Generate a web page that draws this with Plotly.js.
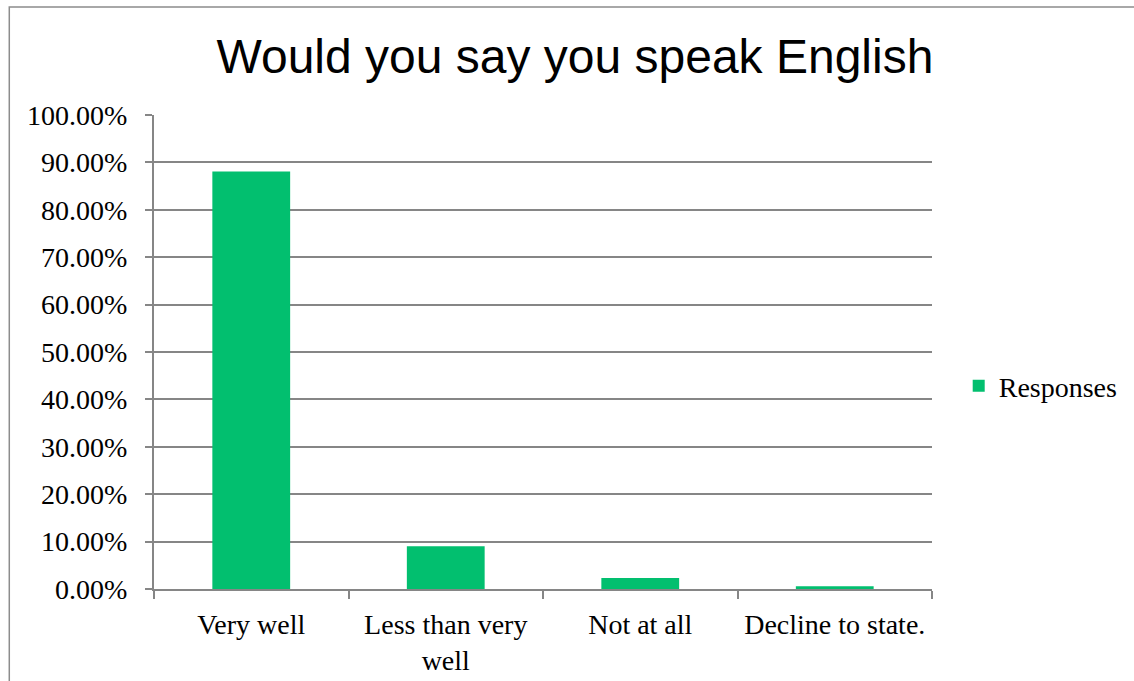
<!DOCTYPE html>
<html>
<head>
<meta charset="utf-8">
<script src="https://cdn.plot.ly/plotly-3.0.1.min.js"></script>
<style>
html,body{margin:0;padding:0;background:#fff;}
#chart{width:1134px;height:681px;}
</style>
</head>
<body>
<div id="chart"></div>
<script>
const categories = ["Very well", "Less than very<br>well", "Not at all", "Decline to state."];
const responses = [0.881, 0.090, 0.023, 0.006];
const seriesName = "Responses";
const yTickVals = [0, 0.1, 0.2, 0.3, 0.4, 0.5, 0.6, 0.7, 0.8, 0.9, 1.0];
const yTickText = ["0.00%", "10.00%", "20.00%", "30.00%", "40.00%", "50.00%", "60.00%", "70.00%", "80.00%", "90.00%", "100.00%"];
const chartTitle = "Would you say you speak English";

const serif = "Liberation Serif, Times New Roman, serif";
const gridColor = "#868686";

const data = [{
  type: "bar",
  x: categories,
  y: responses,
  name: seriesName,
  marker: {color: "#02BF6F"},
  showlegend: true
}];

const layout = {
  width: 1134, height: 681,
  margin: {l: 154, r: 201, t: 115, b: 92, pad: 0},
  paper_bgcolor: "#fff", plot_bgcolor: "#fff",
  title: {
    text: chartTitle,
    font: {family: "Liberation Sans, Arial, sans-serif", size: 48, color: "#000"},
    x: 0.507, xanchor: "center", y: 0.918, yanchor: "middle"
  },
  bargap: 0.6,
  xaxis: {
    type: "category",
    showgrid: false,
    showline: true, linecolor: gridColor, linewidth: 2,
    ticks: "outside", tickson: "boundaries", ticklen: 8, tickcolor: gridColor, tickwidth: 2,
    tickfont: {family: serif, size: 28, color: "#000"},
    ticklabelstandoff: 9,
    zeroline: false
  },
  yaxis: {
    range: [0, 1.0],
    tickvals: yTickVals, ticktext: yTickText,
    showgrid: true, gridcolor: gridColor, gridwidth: 2,
    showline: true, linecolor: gridColor, linewidth: 2,
    ticks: "outside", ticklen: 7, tickcolor: gridColor, tickwidth: 2,
    tickfont: {family: serif, size: 28, color: "#000"},
    ticklabelstandoff: 12,
    zeroline: false
  },
  legend: {
    x: 1.033, xanchor: "left", y: 0.428, yanchor: "middle",
    font: {family: serif, size: 28, color: "#000"},
    itemwidth: 30,
    bgcolor: "rgba(0,0,0,0)"
  },
  shapes: [{
    type: "rect", xref: "paper", yref: "paper",
    x0: -0.186, x1: 1.5, y0: -0.5, y1: 1.228,
    line: {color: "#8c8c8c", width: 1.5}, fillcolor: "rgba(0,0,0,0)", layer: "below"
  }]
};

Plotly.newPlot("chart", data, layout, {displayModeBar: false, staticPlot: true});
</script>
</body>
</html>
